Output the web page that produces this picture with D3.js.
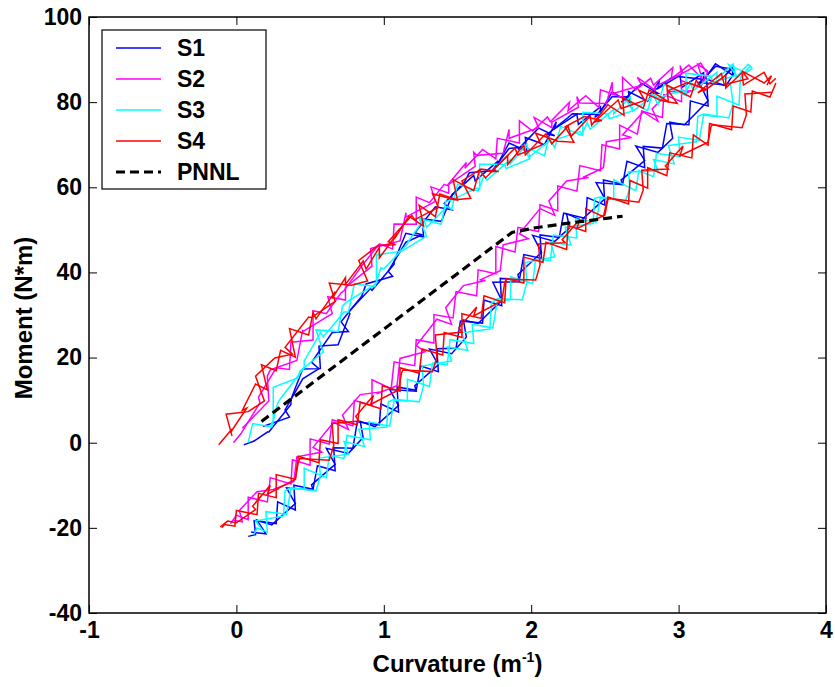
<!DOCTYPE html>
<html>
<head>
<meta charset="utf-8">
<script src="https://cdnjs.cloudflare.com/ajax/libs/d3/7.8.5/d3.min.js"></script>
<style>
    body { margin: 0; background: #fff; }
    svg text { font-family: "Liberation Sans", Arial, sans-serif; font-weight: bold; fill: #000; }
</style>
</head>
<body>
<div class="chart"></div>
<script>

// tick labels
var xTicks = [-1, 0, 1, 2, 3, 4];
var yTicks = [-40, -20, 0, 20, 40, 60, 80, 100];

var seriesNames = ["S1", "S2", "S3", "S4", "PNNL"];
var seriesColors = ["#0000ff", "#ff00ff", "#00ffff", "#ff0000", "#000000"];

// [curvature, moment]
// each specimen: loading branch + unloading branch, two cycles
var s1Up = [[0.05,-0.5],[0.12,0.4],[0.21,2.5],[0.22,2.5],[0.37,9.0],[0.37,10.2],[0.45,17.3],[0.57,17.4],[0.56,22.7],[0.69,23.0],
    [0.77,30.3],[0.76,30.7],[0.91,36.2],[0.92,35.8],[1.07,41.9],[1.07,42.6],[1.15,49.2],[1.27,48.3],[1.26,52.6],[1.39,52.0],
    [1.47,58.6],[1.46,58.1],[1.61,62.8],[1.62,61.5],[1.77,66.0],[1.77,65.3],[1.85,70.4],[1.97,68.5],[1.96,71.7],[2.09,70.0],
    [2.17,75.4],[2.16,73.8],[2.31,77.2],[2.32,74.8],[2.47,78.9],[2.47,77.7],[2.55,82.4],[2.67,79.9],[2.66,82.5],[2.79,80.2],
    [2.87,85.2],[2.86,83.2],[3.01,86.3],[3.02,83.4],[3.17,86.9],[3.17,85.1],[3.25,89.0],[3.37,86.3],[3.36,88.3],[3.38,87.0]];
var s1Down = [[3.38,87.0],[3.32,83.8],[3.19,85.4],[3.20,79.1],[3.08,80.3],[3.07,74.7],[2.92,75.0],[2.89,69.2],[2.76,69.6],[2.77,64.6],
    [2.65,66.1],[2.62,60.7],[2.49,61.7],[2.50,55.8],[2.38,57.6],[2.37,52.7],[2.22,53.9],[2.19,48.2],[2.06,48.8],[2.07,43.3],
    [1.95,44.2],[1.92,38.3],[1.79,38.6],[1.80,32.2],[1.68,33.5],[1.67,28.1],[1.52,28.6],[1.49,22.2],[1.36,22.1],[1.37,16.7],
    [1.25,18.0],[1.22,12.3],[1.09,13.1],[1.10,7.2],[0.98,9.1],[0.97,4.2],[0.82,4.9],[0.79,-1.3],[0.66,-1.2],[0.67,-6.6],
    [0.55,-5.4],[0.52,-10.9],[0.39,-10.0],[0.40,-15.8],[0.28,-13.9],[0.27,-19.0],[0.12,-18.3],[0.13,-21.6],[0.08,-22.0]];
var s1Up2 = [[0.18,3.8],[0.36,6.0],[0.33,7.7],[0.45,15.0],[0.56,17.4],[0.51,18.9],[0.65,25.9],[0.76,26.1],[0.71,28.4],[0.85,34.4],
    [0.88,37.3],[1.06,39.1],[1.03,40.3],[1.15,47.1],[1.26,48.8],[1.21,49.3],[1.35,55.4],[1.46,54.7],[1.41,56.2],[1.55,61.4],
    [1.58,63.4],[1.76,64.0],[1.73,63.7],[1.85,69.1],[1.96,69.5],[1.91,68.9],[2.05,73.9],[2.16,72.1],[2.11,72.5],[2.25,76.4],
    [2.28,77.3],[2.46,77.1],[2.43,76.4],[2.55,81.3],[2.66,81.2],[2.61,80.0],[2.75,84.4],[2.86,82.1],[2.81,82.1],[2.95,85.7],
    [2.98,86.1],[3.16,85.4],[3.13,84.1],[3.25,88.4],[3.36,87.8],[3.31,86.0],[3.37,88.5]];
var s1Down2 = [[3.32,84.0],[3.14,84.6],[3.20,80.3],[3.04,74.7],[2.94,75.3],[2.96,71.5],[2.86,68.2],[2.71,69.7],[2.77,66.3],[2.61,61.7],
    [2.62,60.6],[2.44,61.1],[2.50,57.3],[2.34,52.3],[2.24,53.8],[2.26,50.5],[2.16,47.3],[2.01,48.7],[2.07,44.7],[1.91,39.5],
    [1.92,37.8],[1.74,37.7],[1.80,33.4],[1.64,28.0],[1.54,28.8],[1.56,24.8],[1.46,20.9],[1.31,22.0],[1.37,18.3],[1.21,13.4],
    [1.22,12.1],[1.04,12.5],[1.10,8.7],[0.94,3.8],[0.84,5.0],[0.86,1.2],[0.76,-2.5],[0.61,-1.3],[0.67,-5.1],[0.51,-9.9],
    [0.52,-11.1],[0.34,-10.6],[0.40,-14.3],[0.24,-19.3],[0.14,-18.2],[0.20,-21.4],[0.10,-21.0]];

var s2Up = [[-0.02,0.0],[0.03,2.1],[0.16,9.4],[0.15,10.7],[0.27,17.6],[0.36,17.2],[0.37,23.6],[0.52,24.1],[0.52,31.0],[0.61,30.3],
    [0.71,35.2],[0.73,35.7],[0.86,42.0],[0.85,41.5],[0.97,46.7],[1.06,45.5],[1.07,51.4],[1.22,51.3],[1.22,57.7],[1.31,56.4],
    [1.41,60.7],[1.43,60.4],[1.56,65.8],[1.55,64.5],[1.67,68.9],[1.76,66.7],[1.77,71.5],[1.92,70.4],[1.92,75.6],[2.01,73.2],
    [2.11,76.5],[2.13,75.4],[2.26,80.0],[2.25,78.0],[2.37,81.5],[2.46,78.7],[2.47,82.9],[2.62,81.1],[2.62,85.8],[2.71,82.9],
    [2.81,85.6],[2.83,84.0],[2.96,88.1],[2.95,85.5],[3.07,88.7],[3.16,85.5],[3.13,88.9],[3.20,87.3]];
var s2Down = [[3.20,87.3],[3.15,83.6],[3.02,85.0],[3.02,80.1],[2.90,81.8],[2.89,76.4],[2.75,77.9],[2.72,72.5],[2.60,74.6],[2.60,69.0],
    [2.48,70.0],[2.47,63.9],[2.33,65.1],[2.31,59.1],[2.18,60.3],[2.18,54.5],[2.06,55.9],[2.05,49.6],[1.91,50.6],[1.89,44.8],
    [1.76,46.1],[1.76,39.7],[1.64,40.6],[1.63,34.5],[1.49,35.5],[1.47,29.3],[1.34,30.1],[1.34,23.4],[1.22,24.2],[1.21,18.1],
    [1.07,19.0],[1.05,12.7],[0.92,14.8],[0.92,8.8],[0.80,9.9],[0.79,4.0],[0.65,5.4],[0.63,-0.3],[0.50,0.9],[0.50,-5.3],
    [0.38,-4.0],[0.37,-9.7],[0.23,-8.2],[0.21,-13.9],[0.08,-12.8],[0.08,-18.1],[0.00,-17.0],[-0.04,-19.0]];
var s2Up2 = [[0.04,3.4],[0.22,9.8],[0.21,15.7],[0.23,17.1],[0.41,19.3],[0.45,26.5],[0.45,26.1],[0.65,30.3],[0.62,34.3],[0.74,33.5],
    [0.74,36.5],[0.92,41.5],[0.91,45.6],[0.93,45.8],[1.11,47.4],[1.15,54.0],[1.15,53.0],[1.35,56.7],[1.32,60.1],[1.44,58.6],
    [1.44,60.7],[1.62,64.9],[1.61,68.2],[1.63,67.5],[1.81,68.0],[1.85,73.6],[1.85,71.5],[2.05,74.0],[2.02,76.4],[2.14,74.0],
    [2.14,75.3],[2.32,78.8],[2.31,81.3],[2.33,79.8],[2.51,79.7],[2.55,84.7],[2.55,82.0],[2.75,84.0],[2.72,85.8],[2.84,82.8],
    [2.84,83.7],[3.02,86.6],[3.01,88.6],[3.03,86.8],[3.15,89.2],[3.19,87.0]];
var s2Down2 = [[3.05,82.1],[3.09,82.7],[2.94,82.5],[2.82,78.4],[2.86,75.5],[2.76,77.7],[2.62,72.3],[2.68,71.7],[2.51,70.7],[2.49,64.6],
    [2.35,62.3],[2.39,62.3],[2.24,61.5],[2.12,56.8],[2.16,53.4],[2.06,55.0],[1.92,49.1],[1.98,47.9],[1.81,46.5],[1.79,40.4],
    [1.65,38.2],[1.69,38.1],[1.54,36.9],[1.42,31.7],[1.46,27.8],[1.36,29.0],[1.22,22.8],[1.28,21.4],[1.11,19.8],[1.09,13.4],
    [0.95,11.5],[0.99,12.0],[0.84,11.3],[0.72,6.5],[0.76,3.1],[0.66,4.8],[0.52,-1.1],[0.58,-2.2],[0.41,-3.3],[0.39,-9.1],
    [0.25,-11.0],[0.29,-10.8],[0.14,-11.5],[0.02,-15.9],[0.04,-18.6],[-0.02,-18.2]];

var s3Up = [[0.08,0.0],[0.11,4.5],[0.24,3.7],[0.28,9.3],[0.30,10.4],[0.46,17.6],[0.46,19.2],[0.57,25.8],[0.59,24.9],[0.73,30.7],
    [0.76,30.7],[0.80,37.3],[0.94,36.7],[0.98,41.1],[1.00,40.8],[1.16,46.7],[1.16,46.9],[1.27,52.4],[1.29,50.6],[1.43,55.5],
    [1.46,54.8],[1.50,60.7],[1.64,59.1],[1.68,62.7],[1.70,61.7],[1.86,66.5],[1.86,65.6],[1.97,70.1],[1.99,67.2],[2.13,71.1],
    [2.16,69.3],[2.20,74.3],[2.34,72.2],[2.38,75.2],[2.40,73.6],[2.56,78.3],[2.56,77.2],[2.67,81.2],[2.69,77.9],[2.83,81.5],
    [2.86,79.4],[2.90,84.1],[3.04,81.7],[3.08,84.5],[3.10,82.7],[3.26,87.0],[3.26,85.5],[3.37,89.0],[3.39,85.8],[3.47,88.9],[3.50,88.0]];
var s3Down = [[3.50,88.0],[3.42,85.8],[3.41,79.3],[3.26,81.4],[3.26,76.6],[3.17,77.0],[3.14,71.0],[3.00,71.8],[3.01,67.2],[2.85,68.0],
    [2.83,62.5],[2.73,63.9],[2.71,59.2],[2.56,61.8],[2.56,57.1],[2.47,57.6],[2.44,51.8],[2.30,52.6],[2.31,48.1],[2.15,48.8],
    [2.13,42.8],[2.03,43.1],[2.01,37.4],[1.86,39.0],[1.86,33.6],[1.77,33.3],[1.74,27.0],[1.60,27.8],[1.61,23.3],[1.45,24.2],
    [1.43,18.3],[1.33,18.7],[1.31,13.2],[1.16,14.9],[1.16,9.8],[1.07,9.9],[1.04,3.9],[0.90,4.9],[0.91,0.7],[0.75,1.7],
    [0.73,-3.7],[0.63,-3.0],[0.61,-8.2],[0.46,-6.0],[0.46,-11.0],[0.37,-10.8],[0.34,-16.8],[0.20,-16.2],[0.21,-21.0],[0.14,-20.0],[0.12,-21.5]];
var s3Up2 = [[0.23,4.0],[0.25,5.1],[0.25,13.0],[0.42,15.3],[0.43,16.8],[0.59,21.3],[0.54,26.5],[0.69,26.1],[0.72,32.2],[0.76,33.3],
    [0.93,36.9],[0.95,37.5],[0.95,44.1],[1.12,45.0],[1.13,45.2],[1.29,48.5],[1.24,52.7],[1.39,51.3],[1.42,56.7],[1.46,57.0],
    [1.63,59.8],[1.65,59.5],[1.65,65.4],[1.82,65.4],[1.83,64.4],[1.99,66.7],[1.94,69.8],[2.09,67.4],[2.12,71.7],[2.16,71.1],
    [2.33,73.1],[2.35,72.3],[2.35,77.6],[2.52,77.2],[2.53,76.1],[2.69,78.0],[2.64,80.7],[2.79,78.0],[2.82,82.0],[2.86,81.0],
    [3.03,82.8],[3.05,81.7],[3.05,86.8],[3.22,86.1],[3.23,84.6],[3.39,86.3],[3.34,88.8],[3.45,87.0],[3.49,88.6]];
var s3Down2 = [[3.35,84.6],[3.37,79.7],[3.34,76.3],[3.17,77.2],[3.13,76.7],[3.12,70.7],[2.93,69.8],[2.97,65.5],[2.83,66.5],[2.86,63.9],
    [2.66,63.6],[2.67,59.9],[2.64,56.7],[2.47,57.7],[2.43,57.4],[2.42,51.5],[2.23,50.6],[2.27,46.4],[2.13,47.1],[2.16,43.7],
    [1.96,42.3],[1.97,37.6],[1.94,33.6],[1.77,33.8],[1.73,32.8],[1.72,26.7],[1.53,25.8],[1.57,21.7],[1.43,22.5],[1.46,19.2],
    [1.26,18.0],[1.27,13.4],[1.24,9.6],[1.07,10.2],[1.03,9.6],[1.02,3.7],[0.83,3.1],[0.87,-0.9],[0.73,0.3],[0.76,-2.7],
    [0.56,-3.6],[0.57,-7.8],[0.54,-11.3],[0.37,-10.6],[0.33,-11.2],[0.32,-17.2],[0.13,-18.4],[0.18,-20.7]];

var s4Up = [[-0.12,-0.5],[-0.03,3.2],[-0.04,2.4],[0.07,8.1],[0.04,7.6],[0.13,13.8],[0.21,12.4],[0.17,18.3],[0.27,16.9],[0.30,21.7],
    [0.40,20.1],[0.36,26.8],[0.49,25.3],[0.52,30.6],[0.54,29.1],[0.67,35.5],[0.65,33.9],[0.74,38.8],[0.74,37.2],[0.86,42.7],
    [0.88,40.8],[0.97,45.9],[0.97,43.4],[1.09,49.1],[1.07,47.8],[1.17,53.2],[1.27,50.9],[1.24,55.8],[1.35,53.1],[1.38,58.4],
    [1.50,57.0],[1.47,61.8],[1.61,59.2],[1.65,64.1],[1.69,62.2],[1.84,67.4],[1.84,65.3],[1.95,69.9],[1.96,67.6],[2.10,72.6],
    [2.14,70.2],[2.25,74.4],[2.27,71.9],[2.40,76.7],[2.41,74.6],[2.52,79.4],[2.63,76.9],[2.62,81.1],[2.76,78.6],[2.80,82.9],
    [2.93,80.1],[2.92,84.0],[3.08,81.2],[3.12,85.1],[3.17,82.6],[3.32,86.3],[3.32,83.3],[3.43,86.9],[3.44,84.0],[3.58,87.0],
    [3.62,84.3],[3.66,85.6]];
var s4Down = [[3.66,84.5],[3.62,81.2],[3.50,82.6],[3.49,77.7],[3.37,79.1],[3.36,73.5],[3.21,75.0],[3.20,69.9],[3.10,72.3],[3.09,66.9],
    [2.94,68.1],[2.92,62.7],[2.79,64.6],[2.79,59.8],[2.67,61.6],[2.66,56.1],[2.52,57.7],[2.49,53.1],[2.37,55.0],[2.37,49.6],
    [2.25,51.0],[2.24,45.4],[2.10,47.1],[2.08,42.4],[1.95,43.6],[1.95,37.5],[1.83,38.6],[1.82,32.9],[1.68,34.5],[1.66,29.2],
    [1.53,30.3],[1.53,24.7],[1.41,25.9],[1.40,20.6],[1.26,22.0],[1.24,16.3],[1.11,17.6],[1.11,12.1],[0.99,13.4],[0.98,8.0],
    [0.84,9.5],[0.82,4.2],[0.69,5.4],[0.69,-0.2],[0.57,0.7],[0.56,-4.7],[0.42,-3.2],[0.40,-8.6],[0.27,-7.5],[0.27,-12.9],
    [0.15,-11.9],[0.14,-16.9],[0.00,-15.9],[-0.01,-19.6],[-0.08,-19.2],[-0.10,-20.0]];
var s4Up2 = [[-0.03,1.6],[-0.07,6.7],[0.08,7.3],[0.19,9.8],[0.13,15.6],[0.26,19.9],[0.38,20.8],[0.33,22.4],[0.49,29.5],[0.51,29.4],
    [0.67,33.2],[0.63,37.5],[0.78,37.0],[0.89,38.0],[0.83,42.8],[0.96,46.3],[1.08,46.5],[1.03,47.2],[1.19,53.4],[1.21,52.4],
    [1.37,55.3],[1.33,58.5],[1.48,57.1],[1.59,57.4],[1.53,61.5],[1.66,64.3],[1.78,63.7],[1.73,63.7],[1.89,69.2],[1.91,67.6],
    [2.07,69.9],[2.03,72.7],[2.18,70.8],[2.29,70.6],[2.23,74.2],[2.36,76.6],[2.48,75.7],[2.43,75.4],[2.59,80.5],[2.61,78.5],
    [2.77,80.4],[2.73,82.8],[2.88,80.4],[2.99,79.7],[2.93,82.7],[3.06,84.6],[3.18,83.1],[3.13,82.2],[3.29,86.7],[3.31,84.1],
    [3.47,85.5],[3.43,87.3],[3.58,84.5],[3.63,86.2],[3.60,84.0]];
var s4Down2 = [[3.63,82.3],[3.45,81.9],[3.46,77.0],[3.43,74.0],[3.23,74.7],[3.22,74.3],[3.20,70.6],[3.01,67.4],[3.03,69.7],[2.91,65.0],
    [2.93,64.3],[2.75,64.0],[2.76,59.3],[2.73,56.5],[2.53,57.4],[2.52,57.1],[2.50,53.5],[2.31,50.3],[2.33,52.5],[2.21,47.7],
    [2.23,47.0],[2.05,46.7],[2.06,41.7],[2.03,38.2],[1.83,38.4],[1.82,37.5],[1.80,33.3],[1.61,29.8],[1.63,31.9],[1.51,27.0],
    [1.53,26.0],[1.35,25.3],[1.36,20.1],[1.33,16.7],[1.13,17.1],[1.12,16.4],[1.10,12.4],[0.91,9.0],[0.93,11.1],[0.81,6.2],
    [0.83,5.1],[0.65,4.5],[0.66,-0.7],[0.63,-4.1],[0.43,-3.7],[0.42,-4.5],[0.40,-8.6],[0.21,-12.1],[0.23,-10.0],[0.11,-14.9],
    [0.13,-15.7],[0.00,-18.8],[-0.06,-18.4],[-0.11,-19.8]];

var pnnl = [[0.17, 5.0], [1.87, 49.4], [2.03, 50.5], [2.28, 51.7], [2.62, 53.2]];

var branches = [
    [s1Up, s1Down, s1Up2, s1Down2],
    [s2Up, s2Down, s2Up2, s2Down2],
    [s3Up, s3Down, s3Up2, s3Down2],
    [s4Up, s4Down, s4Up2, s4Down2]
];

(function () {
    var width = 835;
    var height = 687;
    var pl = 89, pr = 826, pt = 17, pb = 613;   // plot box

    var svg = d3.select(".chart")
        .append("svg")
        .attr("width", width)
        .attr("height", height);

    var x = d3.scaleLinear().domain([-1, 4]).range([pl, pr]);
    var y = d3.scaleLinear().domain([-40, 100]).range([pb, pt]);

    var line = d3.line()
        .x(function (d) { return x(d[0]); })
        .y(function (d) { return y(d[1]); });

    // the loops, S1 first so S4 ends up on top
    branches.forEach(function (set, i) {
        set.forEach(function (b) {
            svg.append("path")
                .datum(b)
                .attr("d", line)
                .attr("fill", "none")
                .attr("stroke", seriesColors[i])
                .attr("stroke-width", 1.5);
        });
    });

    svg.append("path")
        .datum(pnnl)
        .attr("d", line)
        .attr("fill", "none")
        .attr("stroke", "#000")
        .attr("stroke-width", 3.2)
        .attr("stroke-dasharray", "9,5");

    // axes, ticks pointing inward on all four sides
    var fs = 23;
    var fmt = function (d) { return String(d); };
    var gx = svg.append("g").attr("transform", "translate(0," + pb + ")")
        .call(d3.axisBottom(x).tickValues(xTicks).tickFormat(fmt).tickSize(-8).tickPadding(9));
    var gy = svg.append("g").attr("transform", "translate(" + pl + ",0)")
        .call(d3.axisLeft(y).tickValues(yTicks).tickFormat(fmt).tickSize(-8).tickPadding(7));
    var gt = svg.append("g").attr("transform", "translate(0," + pt + ")")
        .call(d3.axisTop(x).tickValues(xTicks).tickSize(-8).tickFormat(""));
    var gr = svg.append("g").attr("transform", "translate(" + pr + ",0)")
        .call(d3.axisRight(y).tickValues(yTicks).tickSize(-8).tickFormat(""));

    [gx, gy, gt, gr].forEach(function (g) {
        g.select(".domain").remove();
        g.selectAll(".tick line").attr("stroke", "#000").attr("stroke-width", 1);
        g.selectAll(".tick text").style("font-size", fs + "px").style("font-weight", "bold")
            .style("font-family", "'Liberation Sans', Arial, sans-serif").attr("fill", "#000");
    });

    svg.append("rect")
        .attr("x", pl).attr("y", pt)
        .attr("width", pr - pl).attr("height", pb - pt)
        .attr("fill", "none").attr("stroke", "#000").attr("stroke-width", 1.5);

    // axis titles
    var xt = svg.append("text")
        .attr("x", (pl + pr) / 2)
        .attr("y", 672)
        .attr("text-anchor", "middle")
        .style("font-size", "24px");
    xt.append("tspan").text("Curvature (m");
    xt.append("tspan").attr("dy", -10).style("font-size", "14px").text("-1");
    xt.append("tspan").attr("dy", 10).text(")");

    svg.append("text")
        .attr("transform", "translate(32,318) rotate(-90)")
        .attr("text-anchor", "middle")
        .style("font-size", "24px")
        .text("Moment (N*m)");

    // legend
    var legend = svg.append("g");
    legend.append("rect")
        .attr("x", 102).attr("y", 30)
        .attr("width", 164).attr("height", 159)
        .attr("fill", "#fff").attr("stroke", "#000").attr("stroke-width", 1.2);

    seriesNames.forEach(function (name, i) {
        var ly = 48 + i * 31;
        legend.append("line")
            .attr("x1", 116).attr("x2", 161)
            .attr("y1", ly).attr("y2", ly)
            .attr("stroke", seriesColors[i])
            .attr("stroke-width", name == "PNNL" ? 3.2 : 1.5)
            .attr("stroke-dasharray", name == "PNNL" ? "9,5" : null);
        legend.append("text")
            .attr("x", 177).attr("y", ly)
            .attr("dy", "0.36em")
            .style("font-size", fs + "px")
            .text(name);
    });
})();

</script>
</body>
</html>
